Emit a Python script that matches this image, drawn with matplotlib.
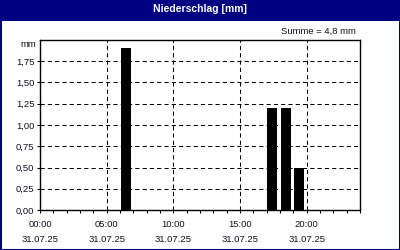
import matplotlib

matplotlib.use('Agg')
import matplotlib.pyplot as plt
from matplotlib.patches import Rectangle
from matplotlib.ticker import FuncFormatter, MultipleLocator

# hourly precipitation, 31.07.25 (hour of day -> mm)
hours = [6, 17, 18, 19]
rain_mm = [1.9, 1.2, 1.2, 0.5]
tick_hours = [0, 5, 10, 15, 20]
day_label = '31.07.25'
title = 'Niederschlag [mm]'

navy = '#000080'
plt.rcParams['font.family'] = ['Liberation Sans', 'DejaVu Sans']

fig = plt.figure(figsize=(4, 2.5), dpi=100)
fig.patch.set_facecolor('white')

# title bar + frame around the whole picture
fig.patches.append(Rectangle((0, 1 - 21 / 250), 1, 21 / 250, transform=fig.transFigure,
                             facecolor=navy, edgecolor='none', zorder=0))
fig.patches.append(Rectangle((0, 0), 1, 1, transform=fig.transFigure, fill=False,
                             edgecolor=navy, linewidth=2.2, zorder=5))
fig.text(0.5, 1 - 9.5 / 250, title, color='white', fontsize=7.5, fontweight='bold',
         ha='center', va='center')

ax = fig.add_axes([40 / 400, 40 / 250, 320 / 400, 170 / 250])
ax.bar([h + 0.05 for h in hours], rain_mm, width=0.75, align='edge', color='black', zorder=3)

ax.set_xlim(0, 24)
ax.set_ylim(0, 2.0)
ax.set_xticks(tick_hours)
ax.set_xticklabels(['%02d:00\n%s' % (h, day_label) for h in tick_hours], linespacing=1.75)
ax.xaxis.set_minor_locator(MultipleLocator(1))
ax.set_yticks([i * 0.25 for i in range(8)])
ax.yaxis.set_major_formatter(FuncFormatter(lambda v, p: ('%.2f' % v).replace('.', ',')))

ax.tick_params(axis='both', which='both', length=2.5, width=0.75, color='black',
               labelsize=6.8, labelcolor='#101020', direction='out')
ax.tick_params(axis='x', which='major', pad=5)
ax.tick_params(axis='y', pad=1.5)

ax.grid(True, which='major', color='black', linestyle=(0, (4, 3)), linewidth=0.75, zorder=1)
for s in ax.spines.values():
    s.set_linewidth(1.0)
    s.set_color('black')

ax.text(-0.012, 1.0, 'mm', transform=ax.transAxes, ha='right', va='top', fontsize=6.8,
        color='#101020')
fig.text(356 / 400, 1 - 31 / 250, 'Summe = 4,8 mm', ha='right', va='center', fontsize=6.8,
         color='#101020')

fig.savefig('out.png', dpi=100)
plt.close()
